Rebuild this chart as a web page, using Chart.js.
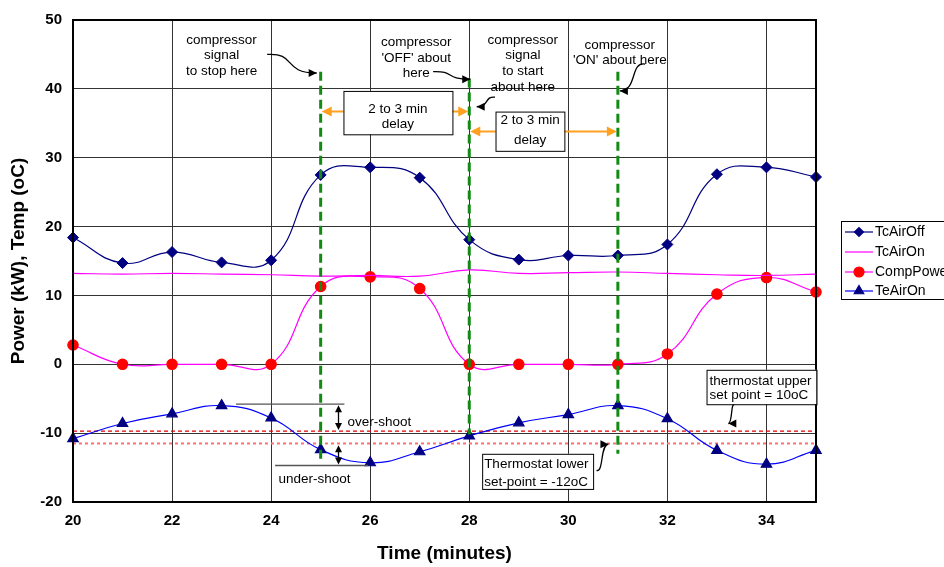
<!DOCTYPE html>
<html><head><meta charset="utf-8">
<script src="https://cdn.jsdelivr.net/npm/chart.js@4.4.1/dist/chart.umd.min.js"></script>
<style>html,body{margin:0;padding:0;background:#fff;overflow:hidden}#wrap{width:944px;height:567px}</style>
</head><body><div id="wrap"><canvas id="c" width="944" height="567"></canvas></div>
<script>
// ---- data ----
const minutes   = [20,21,22,23,24,25,26,27,28,29,30,31,32,33,34,35];
const tcAirOff  = [18.4,14.7,16.3,14.8,15.1,27.5,28.6,27.1,18.1,15.2,15.8,15.8,17.4,27.6,28.6,27.2];
const tcAirOn   = [13.2,13.1,13.2,13.1,13.0,12.8,12.9,12.8,13.7,13.2,13.3,13.4,13.2,13.0,12.9,13.1];
const compPower = [2.8,0,0,0,0,11.3,12.7,11.0,0,0,0,0,1.5,10.2,12.6,10.5];
const teAirOn   = [-10.8,-8.6,-7.2,-6.0,-7.8,-12.4,-14.3,-12.7,-10.4,-8.5,-7.3,-6.0,-7.9,-12.5,-14.5,-12.5];
const seriesNames = ['TcAirOff','TcAirOn','CompPower','TeAirOn'];
const xTicks = [20,22,24,26,28,30,32,34];
const yTicks = [-20,-10,0,10,20,30,40,50];
const xTitle = 'Time (minutes)';
const yTitle = 'Power (kW), Temp (oC)';
// set-point reference lines
const upperSetLine = -9.7;
const lowerSetLine = -11.5;
// compressor event markers: [time, top value, bottom value]
const eventLines = [[25,42.5,-14.2],[28,41.5,-10.2],[31,42.5,-13.0]];
// delay arrows: [from time, to time, value]
const delayArrows = [[25,28,36.7],[28,31,33.8]];
const delayBoxes = [
  {x1:25.46,x2:27.66,y1:39.7,y2:33.4,tx:26.56,lines:['2 to 3 min','delay'],ty:[37.0,34.8]},
  {x1:28.53,x2:29.92,y1:36.7,y2:31.0,tx:29.23,lines:['2 to 3 min','delay'],ty:[35.4,32.6]}
];
const noteTexts = [
  {x:23.0, y:[47.1,44.9,42.5], lines:['compressor','signal','to stop here']},
  {x:26.93,y:[46.8,44.5,42.2], lines:['compressor',"'OFF' about",'here']},
  {x:29.08,y:[47.1,44.9,42.5,40.2], lines:['compressor','signal','to start','about here']},
  {x:31.04,y:[46.4,44.2], lines:['compressor',"'ON' about here"]}
];
// curved pointer arrows: [x1,y1,x2,y2]
const pointers = [
  [23.92,45.0,24.92,42.3],
  [27.27,42.5,28.02,41.4],
  [28.52,38.8,28.15,37.4],
  [31.55,43.6,31.04,39.7],
  [33.35,-5.9,33.23,-8.6],
  [30.57,-15.4,30.81,-11.6]
];
const thermoBoxes = [
  {x1:32.79,x2:35.01,y1:-0.8,y2:-5.8,tx:32.85,lines:['thermostat upper','set point = 10oC'],ty:[-2.4,-4.5]},
  {x1:28.26,x2:30.5,y1:-13.0,y2:-18.1,tx:28.3,lines:['Thermostat lower','set-point = -12oC'],ty:[-14.5,-17.1]}
];
const shootLines = [[23.29,25.48,-5.8],[24.08,25.96,-14.7]];
const shootArrows = [[25.36,-5.8,-9.7],[25.36,-11.6,-14.7]];
const shootTexts = [{x:25.54,y:-8.45,t:'over-shoot'},{x:24.15,y:-16.7,t:'under-shoot'}];

const FONT = '"Liberation Sans", Arial, sans-serif';

function arrowHead(ctx, x, y, ang, size, color){
  ctx.save(); ctx.fillStyle=color; ctx.translate(x,y); ctx.rotate(ang);
  ctx.beginPath(); ctx.moveTo(0,0); ctx.lineTo(-size, -size*0.5); ctx.lineTo(-size, size*0.5); ctx.closePath(); ctx.fill(); ctx.restore();
}

const annot = {
  id:'annot',
  beforeDatasetsDraw(chart){
    const {ctx, chartArea:a, scales:{x,y}} = chart;
    ctx.save();
    ctx.lineWidth=1.2;
    ctx.strokeStyle='#e00000'; ctx.setLineDash([4,3]);
    ctx.beginPath(); ctx.moveTo(a.left, y.getPixelForValue(upperSetLine)); ctx.lineTo(a.right, y.getPixelForValue(upperSetLine)); ctx.stroke();
    ctx.lineWidth=2; ctx.strokeStyle='#ff7070'; ctx.setLineDash([3,3]);
    ctx.beginPath(); ctx.moveTo(a.left, y.getPixelForValue(lowerSetLine)); ctx.lineTo(a.right, y.getPixelForValue(lowerSetLine)); ctx.stroke();
    ctx.restore();
  },
  afterDatasetsDraw(chart){
    const {ctx, chartArea:a, scales:{x,y}} = chart;
    const X = v=>x.getPixelForValue(v), Y = v=>y.getPixelForValue(v);
    ctx.save();
    ctx.strokeStyle='#000'; ctx.lineWidth=2; ctx.setLineDash([]);
    ctx.strokeRect(a.left, a.top, a.right-a.left, a.bottom-a.top);
    ctx.strokeStyle='#138a13'; ctx.lineWidth=3; ctx.setLineDash([9,5]);
    eventLines.forEach(([t,top,bot])=>{ctx.beginPath(); ctx.moveTo(X(t),Y(top)); ctx.lineTo(X(t),Y(bot)); ctx.stroke();});
    ctx.setLineDash([]);
    const orange='#ffa020';
    delayArrows.forEach(([t1,t2,v])=>{
      ctx.strokeStyle=orange; ctx.lineWidth=2;
      ctx.beginPath(); ctx.moveTo(X(t1)+4,Y(v)); ctx.lineTo(X(t2)-4,Y(v)); ctx.stroke();
      arrowHead(ctx,X(t2)-1,Y(v),0,10,orange); arrowHead(ctx,X(t1)+1,Y(v),Math.PI,10,orange);
    });
    ctx.font='13.5px '+FONT; ctx.textBaseline='middle';
    delayBoxes.forEach(b=>{
      ctx.fillStyle='#fff'; ctx.fillRect(X(b.x1),Y(b.y1),X(b.x2)-X(b.x1),Y(b.y2)-Y(b.y1));
      ctx.strokeStyle='#000'; ctx.lineWidth=1; ctx.strokeRect(X(b.x1)+0.5,Y(b.y1)+0.5,X(b.x2)-X(b.x1),Y(b.y2)-Y(b.y1));
      ctx.fillStyle='#000'; ctx.textAlign='center';
      b.lines.forEach((l,i)=>ctx.fillText(l,X(b.tx),Y(b.ty[i])));
    });
    thermoBoxes.forEach(b=>{
      ctx.fillStyle='#fff'; ctx.fillRect(X(b.x1),Y(b.y1),X(b.x2)-X(b.x1),Y(b.y2)-Y(b.y1));
      ctx.strokeStyle='#000'; ctx.lineWidth=1; ctx.strokeRect(X(b.x1)+0.5,Y(b.y1)+0.5,X(b.x2)-X(b.x1),Y(b.y2)-Y(b.y1));
      ctx.fillStyle='#000'; ctx.textAlign='left';
      b.lines.forEach((l,i)=>ctx.fillText(l,X(b.tx),Y(b.ty[i])));
    });
    ctx.fillStyle='#000'; ctx.textAlign='center';
    noteTexts.forEach(n=>n.lines.forEach((l,i)=>ctx.fillText(l,X(n.x),Y(n.y[i]))));
    pointers.forEach(([x1,y1,x2,y2])=>{
      const px1=X(x1),py1=Y(y1),px2=X(x2),py2=Y(y2);
      const dx=px2-px1, dy=py2-py1;
      const c1x=px1+dx*0.6, c1y=py1-dy*0.1, c2x=px1+dx*0.3, c2y=py1+dy*1.0;
      ctx.strokeStyle='#000'; ctx.lineWidth=1.3;
      ctx.beginPath(); ctx.moveTo(px1,py1); ctx.bezierCurveTo(c1x,c1y,c2x,c2y,px2,py2); ctx.stroke();
      arrowHead(ctx,px2,py2,Math.atan2(py2-c2y,px2-c2x),8,'#000');
    });
    ctx.strokeStyle='#555'; ctx.lineWidth=1.3;
    shootLines.forEach(([x1,x2,v])=>{ctx.beginPath(); ctx.moveTo(X(x1),Y(v)); ctx.lineTo(X(x2),Y(v)); ctx.stroke();});
    ctx.strokeStyle='#000';
    shootArrows.forEach(([t,v1,v2])=>{
      ctx.beginPath(); ctx.moveTo(X(t),Y(v1)+4); ctx.lineTo(X(t),Y(v2)-4); ctx.stroke();
      arrowHead(ctx,X(t),Y(v1)+1,-Math.PI/2,7,'#000'); arrowHead(ctx,X(t),Y(v2)-1,Math.PI/2,7,'#000');
    });
    ctx.fillStyle='#000'; ctx.textAlign='left';
    shootTexts.forEach(s=>ctx.fillText(s.t,X(s.x),Y(s.y)));
    // legend
    const lx=841, ly=221;
    ctx.fillStyle='#fff'; ctx.fillRect(lx,ly,110,78);
    ctx.strokeStyle='#000'; ctx.lineWidth=1; ctx.strokeRect(lx+0.5,ly+0.5,110,78);
    const rows=[232,252,272,291];
    const mk=[{s:'rectRot',c:'#000080',r:4.5},null,{s:'circle',c:'#ff0000',r:5},{s:'triangle',c:'#000080',r:5.5}];
    chart.data.datasets.forEach((ds,i)=>{
      const ry=rows[i];
      ctx.strokeStyle=ds.borderColor; ctx.lineWidth=1.2;
      ctx.beginPath(); ctx.moveTo(845,ry); ctx.lineTo(873,ry); ctx.stroke();
      const m=mk[i];
      if(m){ ctx.fillStyle=m.c; ctx.strokeStyle=m.c;
        Chart.helpers.drawPoint(ctx,{pointStyle:m.s,radius:m.r,rotation:0,borderWidth:1},859,ry); }
      ctx.fillStyle='#000'; ctx.textAlign='left'; ctx.font='14px '+FONT;
      ctx.fillText(ds.label,875,ry+0.5);
    });
    ctx.restore();
  }
};

const tickFont = {family:FONT, size:15, weight:'bold'};
new Chart(document.getElementById('c'),{
  type:'line',
  data:{datasets:[
    {label:seriesNames[0],data:minutes.map((m,i)=>({x:m,y:tcAirOff[i]})),borderColor:'#000080',backgroundColor:'#000080',borderWidth:1.2,pointStyle:'rectRot',pointRadius:5.5,pointBorderWidth:1,tension:0.45,clip:10},
    {label:seriesNames[1],data:minutes.map((m,i)=>({x:m,y:tcAirOn[i]})),borderColor:'#ff00ff',backgroundColor:'#ff00ff',borderWidth:1.2,pointRadius:0,tension:0.45,clip:10},
    {label:seriesNames[2],data:minutes.map((m,i)=>({x:m,y:compPower[i]})),borderColor:'#ff00ff',backgroundColor:'#ff0000',pointBorderColor:'#ff0000',borderWidth:1.2,pointStyle:'circle',pointRadius:5.2,tension:0.45,clip:10},
    {label:seriesNames[3],data:minutes.map((m,i)=>({x:m,y:teAirOn[i]})),borderColor:'#0000ff',backgroundColor:'#000080',pointBorderColor:'#000080',borderWidth:1.2,pointStyle:'triangle',pointRadius:6,tension:0.45,clip:10}
  ]},
  options:{
    responsive:false, animation:false, devicePixelRatio:1,
    layout:{padding:{left:0,right:128,top:19,bottom:0}},
    plugins:{legend:{display:false},tooltip:{enabled:false}},
    scales:{
      x:{type:'linear',min:20,max:35,
        afterBuildTicks:s=>{s.ticks=xTicks.map(v=>({value:v}));},
        afterFit:s=>{s.height=65;},
        ticks:{font:tickFont,color:'#000',padding:10,autoSkip:false,maxRotation:0},
        grid:{color:'#333',lineWidth:1,drawTicks:false},
        border:{color:'#000',width:2},
        title:{display:true,text:xTitle,color:'#000',font:{family:FONT,size:19,weight:'bold'},padding:{top:0,bottom:2}}
      },
      y:{type:'linear',min:-20,max:50,
        afterBuildTicks:s=>{s.ticks=yTicks.map(v=>({value:v}));},
        afterFit:s=>{s.width=73;},
        ticks:{font:tickFont,color:'#000',padding:11},
        grid:{color:'#333',lineWidth:1,drawTicks:false},
        border:{color:'#000',width:2},
        title:{display:true,text:yTitle,color:'#000',font:{family:FONT,size:19,weight:'bold'},padding:{top:7,bottom:0}}
      }
    }
  },
  plugins:[annot]
});
</script></body></html>
